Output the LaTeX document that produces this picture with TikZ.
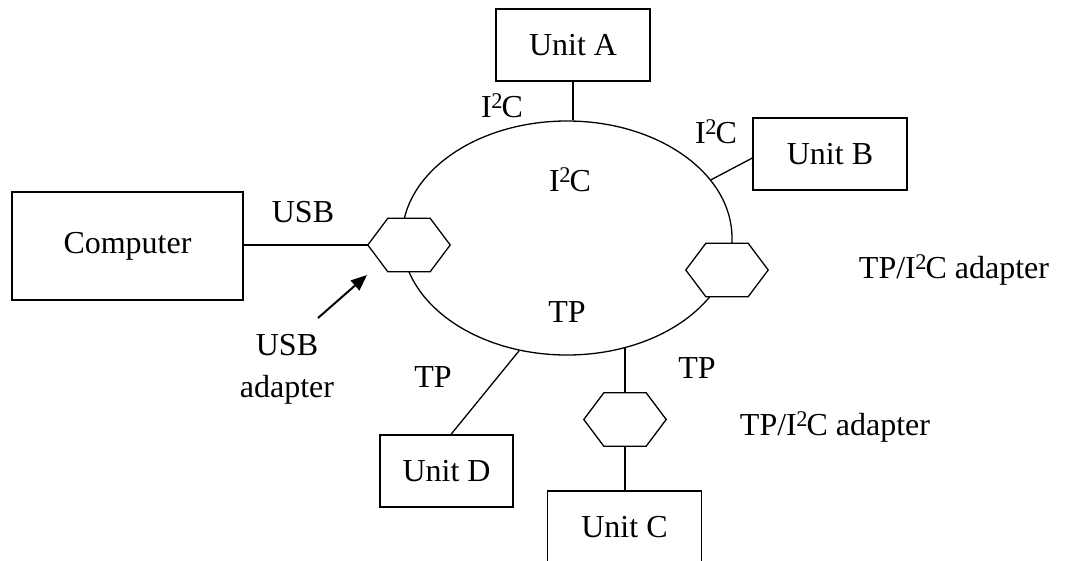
\documentclass[tikz,border=0pt]{standalone}
\usepackage{fontspec}
\setmainfont{Liberation Serif}
\usetikzlibrary{arrows.meta,shapes.geometric,calc}

\tikzset{
  unitbox/.style={draw, line width=1.3pt, minimum width=154pt, minimum height=72pt, inner sep=0pt},
  hexbox/.style={minimum width=82pt, minimum height=53pt, inner sep=0pt},
  lbl/.style={inner sep=0pt},
  wire/.style={line width=1.3pt},
  pointer/.style={line width=2pt, -{Triangle[length=16pt,width=13pt]}},
}

% I squared C, with the tight superscript of the bus name
\newcommand\iic{I\kern-0.5pt\textsuperscript{2}\kern-1.5pt C}

% flat-topped hexagon drawn over a hexbox node, filled white
\newcommand\drawhexagon[1]{%
  \draw[wire, fill=white] (#1.west) -- ([xshift=20pt]#1.north west) -- ([xshift=-20pt]#1.north east)
    -- (#1.east) -- ([xshift=-20pt]#1.south east) -- ([xshift=20pt]#1.south west) -- cycle;}

\begin{document}
\begin{tikzpicture}[x=1pt,y=-1pt,font=\fontsize{32}{40}\selectfont]
\useasboundingbox (0,0) rectangle (1065,560);
\clip (0,0) rectangle (1065,560);

% ring bus
\node[draw, line width=1.3pt, ellipse, minimum width=330pt, minimum height=234pt, inner sep=0pt] (ring) at (567,238) {};

% units
\node[unitbox] (unitA) at (573,45) {Unit A};
\node[unitbox] (unitB) at (830,154) {Unit B};
\node[unitbox, minimum width=133pt] (unitD) at (446.5,471) {Unit D};
\node[unitbox] (unitC) at (624.5,527) {Unit C};
\node[unitbox, minimum width=231pt, minimum height=108pt] (computer) at (127.5,246) {Computer};

% adapters
\node[hexbox] (hexL) at (409,245) {};
\node[hexbox] (hexR) at (727,270) {};
\node[hexbox] (hexC) at (625,419.5) {};

% connections
\draw[wire] (unitA.south) -- (unitA.south |- ring.north);
\draw[wire] (ring.22) -- ([yshift=-4pt]unitB.west);
\draw[wire] (ring.247) -- ([xshift=4.5pt]unitD.north);
\draw[wire] (hexC.north) -- (hexC.north |- ring.-62);
\draw[wire] (hexC.south) -- (hexC.south |- unitC.north);
\draw[wire] (computer.east |- hexL.west) -- (hexL.west);

\drawhexagon{hexL}
\drawhexagon{hexR}
\drawhexagon{hexC}

% labels
\node[lbl] (lA) at (502,106) {\iic};
\node[lbl] (lB) at (716,132) {\iic};
\node[lbl] (lring) at (570,180) {\iic};
\node[lbl] (lusb) at (303,212) {USB};
\node[lbl] (ltp) at (567,312) {TP};
\node[lbl] (ltpD) at (433,377) {TP};
\node[lbl] (ltpC) at (697,368) {TP};
\node[lbl] (ladR) at (954,270) {TP/\iic{} adapter};
\node[lbl] (ladC) at (835,427) {TP/\iic{} adapter};
\node[lbl, align=center] (lusbad) at (287,369) {USB\\[2pt]adapter};

% pointer to the USB adapter
\coordinate (usbtail) at (318,318);
\coordinate (usbhead) at (367,275);
\draw[pointer] (usbtail) -- (usbhead);
\end{tikzpicture}
\end{document}
